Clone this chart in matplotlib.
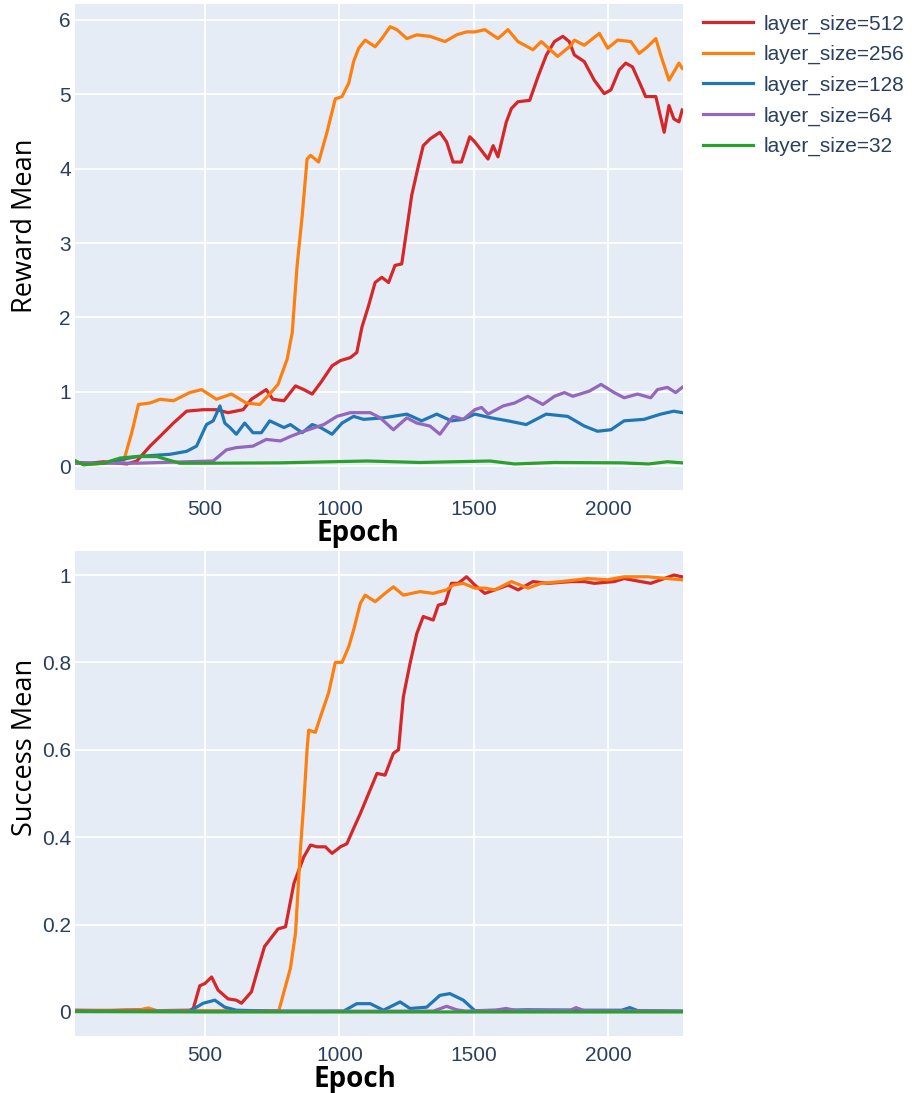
import matplotlib
matplotlib.use("Agg")
import matplotlib.pyplot as plt

# Datos (epoca, valor)
labels = ["layer_size=512", "layer_size=256", "layer_size=128", "layer_size=64", "layer_size=32"]
colores = ["#d62728", "#ff7f0e", "#1f77b4", "#9467bd", "#2ca02c"]

# Reward Mean
rew_512_x = [19, 74, 123, 210, 247, 296, 333, 383, 432, 494, 543, 586, 642, 673, 728, 753, 794, 837, 868, 899,
             930, 973, 1004, 1041, 1065, 1084, 1109, 1133, 1158, 1183, 1207, 1232, 1251, 1269, 1294, 1312, 1337,
             1374, 1399, 1423, 1454, 1485, 1504, 1553, 1572, 1590, 1621, 1640, 1664, 1708, 1739, 1770, 1800,
             1831, 1855, 1874, 1911, 1948, 1985, 2010, 2041, 2065, 2090, 2115, 2139, 2177, 2208, 2226, 2244,
             2263, 2275]
rew_512_y = [0.05, 0.04, 0.06, 0.03, 0.07, 0.27, 0.4, 0.58, 0.74, 0.76, 0.76, 0.72, 0.76, 0.9, 1.03, 0.9, 0.88,
             1.08, 1.03, 0.97, 1.12, 1.35, 1.42, 1.46, 1.53, 1.87, 2.16, 2.47, 2.54, 2.47, 2.7, 2.72, 3.19, 3.64,
             4.04, 4.31, 4.4, 4.49, 4.36, 4.09, 4.09, 4.43, 4.36, 4.13, 4.31, 4.16, 4.63, 4.81, 4.9, 4.92, 5.24,
             5.53, 5.71, 5.78, 5.71, 5.53, 5.44, 5.19, 5.01, 5.06, 5.33, 5.42, 5.37, 5.17, 4.97, 4.97, 4.49,
             4.85, 4.67, 4.63, 4.79]

rew_256_x = [19, 49, 123, 198, 228, 253, 296, 333, 383, 444, 488, 543, 599, 654, 704, 741, 772, 806, 825, 843,
             862, 880, 893, 923, 954, 985, 1010, 1035, 1053, 1072, 1096, 1133, 1158, 1189, 1214, 1251, 1288,
             1337, 1393, 1436, 1473, 1504, 1541, 1590, 1627, 1664, 1720, 1751, 1812, 1862, 1874, 1911, 1967,
             1998, 2035, 2084, 2115, 2146, 2177, 2195, 2226, 2263, 2275]
rew_256_y = [0.07, 0.02, 0.04, 0.07, 0.45, 0.83, 0.85, 0.9, 0.88, 0.99, 1.03, 0.9, 0.97, 0.85, 0.83, 0.97, 1.1,
             1.44, 1.8, 2.7, 3.37, 4.13, 4.18, 4.09, 4.49, 4.94, 4.97, 5.15, 5.44, 5.62, 5.73, 5.64, 5.75, 5.91,
             5.87, 5.75, 5.8, 5.78, 5.71, 5.8, 5.84, 5.84, 5.87, 5.75, 5.87, 5.71, 5.6, 5.71, 5.51, 5.66, 5.73,
             5.66, 5.82, 5.62, 5.73, 5.71, 5.55, 5.64, 5.75, 5.53, 5.19, 5.42, 5.35]

rew_128_x = [19, 123, 247, 370, 432, 469, 506, 531, 556, 574, 593, 617, 648, 679, 710, 741, 794, 818, 862, 899,
             930, 973, 1010, 1053, 1090, 1164, 1251, 1306, 1362, 1417, 1461, 1504, 1565, 1627, 1695, 1769, 1849,
             1911, 1960, 2010, 2059, 2133, 2195, 2244, 2275]
rew_128_y = [0.04, 0.04, 0.13, 0.16, 0.2, 0.27, 0.56, 0.61, 0.81, 0.58, 0.52, 0.43, 0.58, 0.45, 0.45, 0.61, 0.52,
             0.56, 0.45, 0.56, 0.52, 0.43, 0.58, 0.67, 0.63, 0.65, 0.7, 0.61, 0.7, 0.61, 0.63, 0.7, 0.65, 0.61,
             0.56, 0.7, 0.67, 0.54, 0.47, 0.49, 0.61, 0.63, 0.7, 0.74, 0.72]

rew_64_x = [19, 247, 531, 580, 617, 679, 728, 781, 818, 868, 942, 991, 1041, 1115, 1152, 1201, 1251, 1288, 1337,
            1374, 1423, 1461, 1504, 1529, 1553, 1609, 1652, 1701, 1757, 1800, 1837, 1868, 1930, 1973, 2022, 2059,
            2109, 2158, 2183, 2220, 2251, 2275]
rew_64_y = [0.04, 0.04, 0.07, 0.22, 0.25, 0.27, 0.36, 0.34, 0.4, 0.47, 0.56, 0.67, 0.72, 0.72, 0.65, 0.49, 0.65,
            0.58, 0.54, 0.43, 0.67, 0.63, 0.76, 0.79, 0.7, 0.81, 0.85, 0.94, 0.83, 0.94, 0.99, 0.94, 1.01, 1.1,
            0.99, 0.92, 0.97, 0.92, 1.03, 1.06, 0.99, 1.06]

rew_32_x = [19, 49, 123, 185, 247, 321, 358, 407, 494, 778, 1103, 1300, 1560, 1652, 1800, 2050, 2150, 2220, 2275]
rew_32_y = [0.07, 0.02, 0.04, 0.11, 0.13, 0.13, 0.09, 0.04, 0.04, 0.045, 0.07, 0.05, 0.07, 0.03, 0.05, 0.045,
            0.03, 0.06, 0.045]

# Success Mean
suc_512_x = [19, 150, 290, 320, 444, 457, 481, 500, 525, 549, 586, 617, 636, 673, 698, 722, 747, 772, 800, 831,
             849, 868, 893, 917, 948, 973, 1004, 1028, 1053, 1078, 1109, 1140, 1170, 1201, 1220, 1238, 1263,
             1288, 1312, 1349, 1368, 1393, 1417, 1442, 1473, 1491, 1504, 1541, 1578, 1628, 1665, 1720, 1776,
             1862, 1911, 1948, 2022, 2059, 2121, 2158, 2195, 2244, 2275]
suc_512_y = [0.004, 0.003, 0.006, 0.003, 0.004, 0.008, 0.06, 0.065, 0.08, 0.05, 0.03, 0.027, 0.02, 0.046, 0.1,
             0.15, 0.17, 0.19, 0.195, 0.294, 0.324, 0.355, 0.382, 0.378, 0.378, 0.363, 0.378, 0.385, 0.42, 0.454,
             0.5, 0.546, 0.542, 0.592, 0.6, 0.721, 0.798, 0.866, 0.905, 0.897, 0.931, 0.935, 0.981, 0.981, 0.996,
             0.985, 0.977, 0.958, 0.966, 0.977, 0.966, 0.985, 0.981, 0.985, 0.985, 0.981, 0.985, 0.992, 0.985,
             0.981, 0.989, 1.0, 0.996]

suc_256_x = [19, 150, 260, 290, 320, 500, 775, 818, 837, 855, 868, 880, 886, 911, 930, 960, 985, 1010, 1035,
             1053, 1078, 1096, 1133, 1170, 1201, 1238, 1300, 1349, 1399, 1423, 1461, 1504, 1541, 1578, 1640,
             1702, 1751, 1825, 1924, 1998, 2059, 2146, 2220, 2275]
suc_256_y = [0.003, 0.004, 0.005, 0.009, 0.003, 0.003, 0.003, 0.1, 0.18, 0.37, 0.48, 0.6, 0.645, 0.64, 0.676,
             0.73, 0.8, 0.8, 0.836, 0.874, 0.935, 0.954, 0.939, 0.958, 0.973, 0.954, 0.962, 0.958, 0.966, 0.977,
             0.981, 0.97, 0.97, 0.966, 0.985, 0.97, 0.981, 0.985, 0.992, 0.989, 0.996, 0.996, 0.992, 0.989]

suc_128_x = [19, 444, 494, 537, 574, 617, 741, 1016, 1065, 1115, 1164, 1226, 1263, 1325, 1374, 1411, 1461, 1504,
             1700, 1900, 2050, 2080, 2110, 2275]
suc_128_y = [0.002, 0.002, 0.02, 0.027, 0.011, 0.004, 0.002, 0.002, 0.019, 0.019, 0.004, 0.023, 0.008, 0.011,
             0.038, 0.042, 0.027, 0.003, 0.005, 0.004, 0.004, 0.01, 0.003, 0.002]

suc_64_x = [19, 1350, 1399, 1436, 1470, 1580, 1620, 1660, 1860, 1880, 1910, 2275]
suc_64_y = [0.001, 0.002, 0.013, 0.005, 0.002, 0.004, 0.008, 0.003, 0.004, 0.01, 0.003, 0.002]

suc_32_x = [19, 500, 1000, 2275]
suc_32_y = [0.001, 0.0, 0.0, 0.0]

rew_x = [rew_512_x, rew_256_x, rew_128_x, rew_64_x, rew_32_x]
rew_y = [rew_512_y, rew_256_y, rew_128_y, rew_64_y, rew_32_y]
suc_x = [suc_512_x, suc_256_x, suc_128_x, suc_64_x, suc_32_x]
suc_y = [suc_512_y, suc_256_y, suc_128_y, suc_64_y, suc_32_y]

x_ticks = [500, 1000, 1500, 2000]
rew_ticks = [0, 1, 2, 3, 4, 5, 6]
suc_ticks = [0, 0.2, 0.4, 0.6, 0.8, 1]
suc_tick_labels = ["0", "0.2", "0.4", "0.6", "0.8", "1"]

W, H = 915, 1093
fig = plt.figure(figsize=(W / 100, H / 100), dpi=100)

tick_font = dict(family=["Liberation Sans", "DejaVu Sans"], size=15, color="#2a3f5f")
fondo = "#e5ecf6"


def estilo(ax):
    ax.set_facecolor(fondo)
    for s in ax.spines.values():
        s.set_visible(False)
    ax.grid(True, color="white", linewidth=1.3)
    ax.set_axisbelow(True)
    ax.tick_params(axis="x", length=0, pad=7)
    ax.tick_params(axis="y", length=0, pad=3)
    for lab in ax.get_xticklabels() + ax.get_yticklabels():
        lab.set_fontfamily(tick_font["family"])
        lab.set_fontsize(tick_font["size"])
        lab.set_color(tick_font["color"])


ax1 = fig.add_axes([75 / W, 1 - 490 / H, 608 / W, 486 / H])
for xs, ys, c, l in zip(rew_x, rew_y, colores, labels):
    ax1.plot(xs, ys, color=c, linewidth=2.3, label=l)
ax1.set_xlim(17, 2278)
ax1.set_ylim(-0.32, 6.215)
ax1.set_xticks(x_ticks)
ax1.set_yticks(rew_ticks)
estilo(ax1)

ax2 = fig.add_axes([75 / W, 1 - 1036 / H, 608 / W, 485 / H])
for xs, ys, c in zip(suc_x, suc_y, colores):
    ax2.plot(xs, ys, color=c, linewidth=2.3)
ax2.set_xlim(17, 2278)
ax2.set_ylim(-0.055, 1.055)
ax2.set_xticks(x_ticks)
ax2.set_yticks(suc_ticks)
ax2.set_yticklabels(suc_tick_labels)
estilo(ax2)

# Titulos de ejes
titulo = dict(family=["Open Sans", "DejaVu Sans"], color="black")
fig.text(358 / W, 1 - 533 / H, "Epoch", fontsize=20, fontweight="bold", ha="center", va="center", **titulo)
fig.text(355 / W, 1 - 1079 / H, "Epoch", fontsize=20, fontweight="bold", ha="center", va="center", **titulo)
fig.text(25 / W, 1 - 226 / H, "Reward Mean", fontsize=19.5, fontweight="normal", rotation=90,
         ha="center", va="center", **titulo)
fig.text(25 / W, 1 - 747 / H, "Success Mean", fontsize=19.5, fontweight="normal", rotation=90,
         ha="center", va="center", **titulo)

# Leyenda
fig.legend(loc="upper left", bbox_to_anchor=(695 / W, 1 - 6 / H), frameon=False,
           prop=dict(family=["Liberation Sans", "DejaVu Sans"], size=15), labelcolor="#2a3f5f",
           handlelength=2.4, handletextpad=0.5, labelspacing=0.55, borderaxespad=0)

fig.savefig("out.png", dpi=100)
